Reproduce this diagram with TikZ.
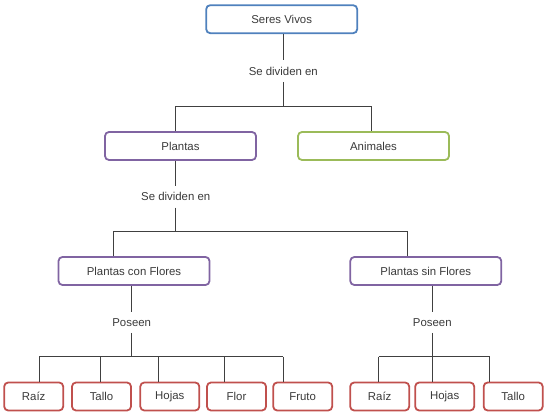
\documentclass[tikz,border=0pt]{standalone}
\usepackage{fontspec}
\setmainfont{Liberation Sans}
\definecolor{cblue}{HTML}{4F81BD}
\definecolor{cpurple}{HTML}{8064A2}
\definecolor{cgreen}{HTML}{9BBB59}
\definecolor{cred}{HTML}{C0504D}
\definecolor{ctext}{HTML}{3A3A3A}
\definecolor{cline}{HTML}{404040}
\begin{document}
\begin{tikzpicture}[x=1pt,y=-1pt,
  every node/.style={font=\fontsize{11.4}{13}\selectfont, text=ctext},
  box/.style={draw, line width=1.8pt, rounded corners=4pt, fill=white, minimum height=28pt, inner sep=0pt},
  wide/.style={box, minimum width=151pt},
  leaf/.style={box, draw=cred, minimum width=59pt},
  lbl/.style={inner xsep=1pt, inner ysep=6.5pt},
  conn/.style={draw=cline, line width=0.8pt}]
\useasboundingbox (0,0) rectangle (550,417);

% nodes
\node[wide, draw=cblue] (sv) at (281.7,19.2) {Seres Vivos};
\node[lbl] (d1) at (283.3,71) {Se dividen en};
\node[wide, draw=cpurple] (pl) at (180.5,146) {Plantas};
\node[wide, draw=cgreen] (an) at (373.5,146) {Animales};
\node[lbl] (d2) at (175.7,196.7) {Se dividen en};
\node[wide, draw=cpurple] (pcf) at (134,271) {Plantas con Flores};
\node[wide, draw=cpurple] (psf) at (425.8,271) {Plantas sin Flores};
\node[lbl] (p1) at (131.7,322.3) {Poseen};
\node[lbl] (p2) at (432.3,322.3) {Poseen};

\node[leaf] (l1) at (33.7,396.5) {Raíz};
\node[leaf] (l2) at (101.5,396.5) {Tallo};
\node[leaf] (l3) at (169.8,396.5) {Hojas};
\node[leaf] (l4) at (236.5,396.5) {Flor};
\node[leaf] (l5) at (302.7,396.5) {Fruto};
\node[leaf] (r1) at (379.7,396.5) {Raíz};
\node[leaf] (r2) at (444.7,396.5) {Hojas};
\node[leaf] (r3) at (513.2,396.5) {Tallo};

% junction coordinates
\coordinate (j1) at (283.3,106);
\coordinate (j1a) at (175.7,106);
\coordinate (j1b) at (371.7,106);
\coordinate (j2) at (175.7,231);
\coordinate (j2a) at (113.3,231);
\coordinate (j2b) at (407.3,231);
\coordinate (j3) at (131.7,356.7);
\coordinate (k1) at (39.3,356.7);
\coordinate (k2) at (100.3,356.7);
\coordinate (k3) at (158,356.7);
\coordinate (k4) at (224.3,356.7);
\coordinate (k5) at (283.3,356.7);
\coordinate (j4) at (432.3,356.7);
\coordinate (m1) at (378.7,356.7);
\coordinate (m3) at (489.7,356.7);

% connectors
\draw[conn] (sv.south -| d1) -- (d1.north);
\draw[conn] (d1.south) -- (j1);
\draw[conn] (pl.north -| j1a) -- (j1a) -- (j1b) -- (an.north -| j1b);

\draw[conn] (pl.south -| d2) -- (d2.north);
\draw[conn] (d2.south) -- (j2);
\draw[conn] (pcf.north -| j2a) -- (j2a) -- (j2b) -- (psf.north -| j2b);

\draw[conn] (pcf.south -| p1) -- (p1.north);
\draw[conn] (p1.south) -- (j3);
\draw[conn] (k1) -- (k5);
\draw[conn] (k1) -- (l1.north -| k1);
\draw[conn] (k2) -- (l2.north -| k2);
\draw[conn] (k3) -- (l3.north -| k3);
\draw[conn] (k4) -- (l4.north -| k4);
\draw[conn] (k5) -- (l5.north -| k5);

\draw[conn] (psf.south -| p2) -- (p2.north);
\draw[conn] (p2.south) -- (j4) -- (r2.north -| j4);
\draw[conn] (m1) -- (m3);
\draw[conn] (m1) -- (r1.north -| m1);
\draw[conn] (m3) -- (r3.north -| m3);
\end{tikzpicture}
\end{document}
